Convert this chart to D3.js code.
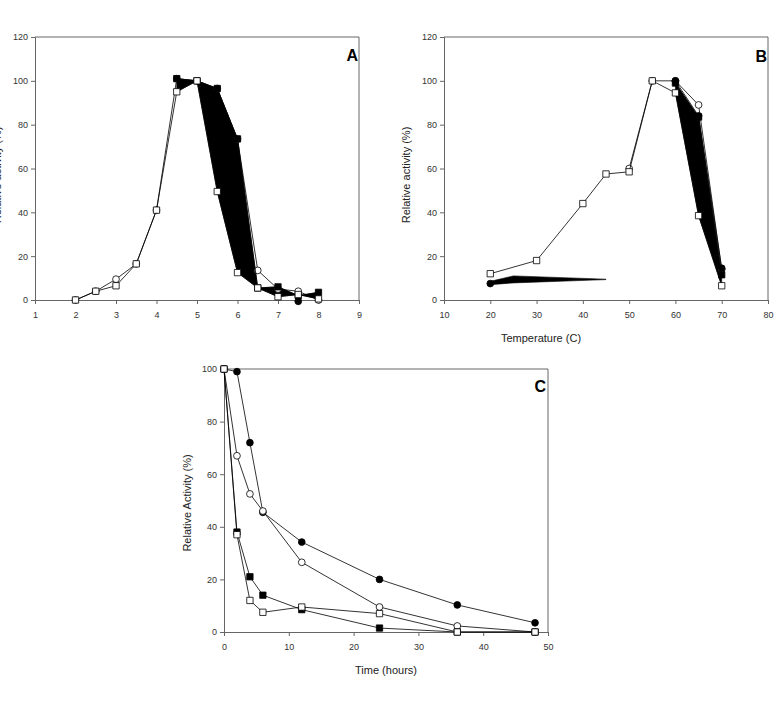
<!DOCTYPE html>
<html>
<head>
<meta charset="utf-8">
<script src="https://cdn.jsdelivr.net/npm/d3@7"></script>
<style>
  body { margin: 0; background: #fff; }
  svg { display: block; font-family: "Liberation Sans", Arial, sans-serif; }
  .tick text { fill: #333; font-size: 9px; }
  .domain, .tick line { stroke: #666; }
</style>
</head>
<body>
<div id="chart"></div>
<script>
// ---- Panel A : pH ----
var phX        = [2, 2.5, 3, 3.5, 4, 4.5, 5, 5.5, 6, 6.5, 7, 7.5, 8];
var phOpenSq   = [0, 4, 6.5, 16.5, 41, 95, 100, 49.5, 12.5, 5.5, 1.5, 2.5, 0.5];
var phOpenCirc = [0, 4, 9.5, 16.5, 41, 101, 100, 96.5, 73.5, 13.5, 5, 4, 0];
var phFillX    = [4.5, 5, 5.5, 6, 6.5, 7, 7.5, 8];
var phFillSq   = [101, 100, 96.5, 73.5, 5.5, 6, 2, 3.5];
var phFillCircX = [7.5];
var phFillCirc  = [-0.6];

// ---- Panel B : temperature ----
var tX        = [20, 30, 40, 45, 50, 55, 60, 65, 70];
var tOpenSq   = [12, 18, 44, 57.5, 58.5, 100, 94.5, 38.5, 6.5];
var tCircX    = [50, 55, 60, 65, 70];
var tOpenCirc = [60, 100, 100, 89, 14];
var tFillX    = [60, 65, 70];
var tFillSq   = [99, 83.5, 11.5];
var tFillCircX = [20, 60, 65, 70];
var tFillCirc  = [7.5, 100, 84, 14.5];
var tFillBelow = [94.5, 38.5, 6.5];   // open squares under the black fill
// the stray black wedge near 20-45
var wedgeX   = [20, 25, 45];
var wedgeTop = [8.5, 11, 9.5];
var wedgeBot = [7, 7.8, 9.3];

// ---- Panel C : stability over time ----
var hX        = [0, 2, 4, 6, 12, 24, 36, 48];
var hFillCirc = [100, 99, 72, 45.5, 34.2, 20, 10.3, 3.5];
var hOpenCirc = [100, 67, 52.5, 46, 26.5, 9.5, 2.3, 0];
var hFillSq   = [100, 38, 21, 14, 8.5, 1.5, 0, 0];
var hOpenSq   = [100, 37, 12, 7.5, 9.5, 7, 0, 0];

var yTicks120 = [0, 20, 40, 60, 80, 100, 120];
var yTicks100 = [0, 20, 40, 60, 80, 100];

var svg = d3.select("#chart").append("svg")
    .attr("width", 776)
    .attr("height", 708);

function zip(xs, ys) {
  return xs.map(function(x, i) { return {x: x, y: ys[i]}; });
}

// build one framed panel and return its scales + group
function panel(box, xDom, yDom, xTicks, yTicks) {
  var x = d3.scaleLinear().domain(xDom).range([box.left, box.right]);
  var y = d3.scaleLinear().domain(yDom).range([box.bottom, box.top]);
  var g = svg.append("g");

  // frame top/right
  g.append("path")
      .attr("d", "M" + box.left + "," + box.top + "H" + box.right + "V" + box.bottom)
      .attr("fill", "none")
      .attr("stroke", "#666");

  g.append("g")
      .attr("transform", "translate(0," + box.bottom + ")")
      .call(d3.axisBottom(x).tickValues(xTicks).tickSize(4).tickPadding(8)
        .tickFormat(d3.format("d")));

  g.append("g")
      .attr("transform", "translate(" + box.left + ",0)")
      .call(d3.axisLeft(y).tickValues(yTicks).tickSize(4).tickPadding(3)
        .tickFormat(d3.format("d")));

  g.selectAll(".domain").attr("stroke", "#666");
  return {x: x, y: y, g: g};
}

function fillBetween(p, xs, top, bot) {
  var area = d3.area()
      .x(function(d) { return p.x(d.x); })
      .y0(function(d) { return p.y(d.b); })
      .y1(function(d) { return p.y(d.t); });
  p.g.append("path")
      .datum(xs.map(function(x, i) { return {x: x, t: top[i], b: bot[i]}; }))
      .attr("fill", "#000")
      .attr("stroke", "#000")
      .attr("stroke-width", 0.6)
      .attr("d", area);
}

function series(p, xs, ys, shape, filled, noLine) {
  var data = zip(xs, ys);
  var line = d3.line()
      .x(function(d) { return p.x(d.x); })
      .y(function(d) { return p.y(d.y); });
  if (!noLine) {
    p.g.append("path")
        .datum(data)
        .attr("fill", "none")
        .attr("stroke", "#000")
        .attr("stroke-width", 0.8)
        .attr("d", line);
  }
  var sym = d3.symbol().type(shape == "sq" ? d3.symbolSquare : d3.symbolCircle)
      .size(shape == "sq" ? 40 : 36);
  p.g.selectAll(null)
      .data(data)
      .enter().append("path")
      .attr("transform", function(d) { return "translate(" + p.x(d.x) + "," + p.y(d.y) + ")"; })
      .attr("d", sym)
      .attr("fill", filled ? "#000" : "#fff")
      .attr("stroke", "#000")
      .attr("stroke-width", 0.8);
}

function label(txt, x, y, size, rotate, bold, anchor) {
  svg.append("text")
      .attr("transform", "translate(" + x + "," + y + ")" + (rotate ? " rotate(-90)" : ""))
      .attr("text-anchor", anchor || "middle")
      .attr("font-size", size)
      .attr("font-weight", bold ? "bold" : "normal")
      .attr("fill", bold ? "#000" : "#222")
      .text(txt);
}

// ---------- A ----------
var pA = panel({left: 35, right: 359, top: 37, bottom: 300}, [1, 9], [0, 120],
    [1, 2, 3, 4, 5, 6, 7, 8, 9], yTicks120);
fillBetween(pA, phFillX, phFillSq, phOpenSq.slice(5));
series(pA, phX, phOpenCirc, "circ", false);
series(pA, phFillX, phFillSq, "sq", true);
series(pA, phFillCircX, phFillCirc, "circ", true, true);
series(pA, phX, phOpenSq, "sq", false);
label("A", 358, 61, "16px", false, true, "end");
label("Relative activity (%)", 1, 175, "11px", true);

// ---------- B ----------
var pB = panel({left: 444, right: 768, top: 37, bottom: 300}, [10, 80], [0, 120],
    [10, 20, 30, 40, 50, 60, 70, 80], yTicks120);
fillBetween(pB, wedgeX, wedgeTop, wedgeBot);
fillBetween(pB, tFillX, tFillSq, tFillBelow);
series(pB, tCircX, tOpenCirc, "circ", false);
series(pB, tFillX, tFillSq, "sq", true);
series(pB, tFillCircX.slice(1), tFillCirc.slice(1), "circ", true);
series(pB, tFillCircX.slice(0, 1), tFillCirc.slice(0, 1), "circ", true, true);
series(pB, tX, tOpenSq, "sq", false);
label("B", 767, 62, "16px", false, true, "end");
label("Relative activity (%)", 410, 175, "11px", true);
label("Temperature (C)", 541, 342, "11px", false);

// ---------- C ----------
var pC = panel({left: 224, right: 548, top: 369, bottom: 632}, [0, 50], [0, 100],
    [0, 10, 20, 30, 40, 50], yTicks100);
series(pC, hX, hFillCirc, "circ", true);
series(pC, hX, hOpenCirc, "circ", false);
series(pC, hX, hFillSq, "sq", true);
series(pC, hX, hOpenSq, "sq", false);
label("C", 546, 392, "16px", false, true, "end");
label("Relative Activity (%)", 191, 503, "11px", true);
label("Time (hours)", 386, 674, "11px", false);
</script>
</body>
</html>
